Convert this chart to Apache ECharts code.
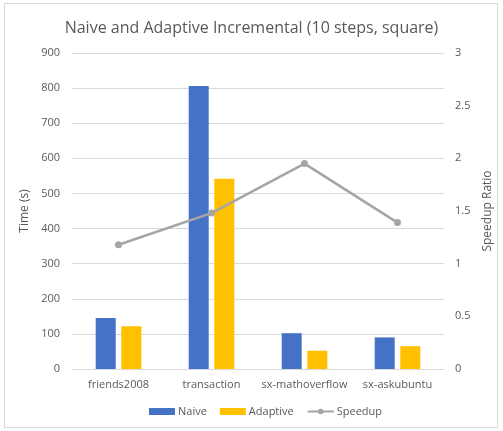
<!DOCTYPE html>
<html><head><meta charset="utf-8">
<script src="https://cdn.jsdelivr.net/npm/echarts@6/dist/echarts.min.js"></script>
<style>
html,body{margin:0;padding:0;background:#fff;}
#frame{position:absolute;left:4px;top:3px;width:494px;height:425px;border:1px solid #d9d9d9;box-sizing:border-box;}
#c{position:absolute;left:0;top:0;width:503px;height:431px;}
</style></head>
<body><div id="frame"></div><div id="c"></div>
<script>
const categories = ['friends2008','transaction','sx-mathoverflow','sx-askubuntu'];
const naive = [145, 806, 102, 90];
const adaptive = [122, 542, 52, 65];
const speedup = [1.18, 1.48, 1.95, 1.39];
const leftTicks = [0, 900, 100];
const rightTicks = [0, 3, 0.5];

const txt = '#595959';
const font = 'Open Sans';
const chart = echarts.init(document.getElementById('c'));
chart.setOption({
  animation:false,
  textStyle:{fontFamily:font,color:txt},
  title:{text:'Naive and Adaptive Incremental (10 steps, square)',left:'center',top:15,
    textStyle:{fontFamily:font,fontSize:16,fontWeight:'normal',color:txt}},
  grid:{left:72,right:59,top:53,bottom:62},
  legend:{left:144,bottom:9,itemWidth:26,itemHeight:7,itemGap:13,
    textStyle:{fontFamily:font,fontSize:11,color:txt,padding:[0,0,0,-2]},
    data:[{name:'Naive',icon:'rect'},{name:'Adaptive',icon:'rect'},{name:'Speedup'}]},
  xAxis:{type:'category',data:categories,
    axisLine:{lineStyle:{color:'#d9d9d9'}},axisTick:{show:false},
    axisLabel:{color:txt,fontSize:11,fontFamily:font,margin:10,interval:0}},
  yAxis:[
    {type:'value',min:leftTicks[0],max:leftTicks[1],interval:leftTicks[2],
     name:'Time (s)',nameLocation:'middle',nameGap:32,nameRotate:90,
     nameTextStyle:{color:txt,fontSize:12,fontFamily:font},
     axisLabel:{color:txt,fontSize:11,fontFamily:font,margin:12},
     splitLine:{lineStyle:{color:'#d9d9d9'}},axisLine:{show:false},axisTick:{show:false}},
    {type:'value',min:rightTicks[0],max:rightTicks[1],interval:rightTicks[2],position:'right',
     name:'Speedup Ratio',nameLocation:'middle',nameGap:32,nameRotate:90,
     nameTextStyle:{color:txt,fontSize:12,fontFamily:font},
     axisLabel:{color:txt,fontSize:11,fontFamily:font,margin:11},
     splitLine:{show:false},axisLine:{show:false},axisTick:{show:false}}
  ],
  series:[
    {name:'Naive',type:'bar',data:naive,barWidth:20,barGap:'28%',itemStyle:{color:'#4472C4'}},
    {name:'Adaptive',type:'bar',data:adaptive,barWidth:20,barGap:'28%',itemStyle:{color:'#FFC000'}},
    {name:'Speedup',type:'line',yAxisIndex:1,data:speedup,symbol:'circle',symbolSize:7,
     lineStyle:{color:'#A5A5A5',width:2.5},itemStyle:{color:'#A5A5A5'}}
  ]
});
</script></body></html>
